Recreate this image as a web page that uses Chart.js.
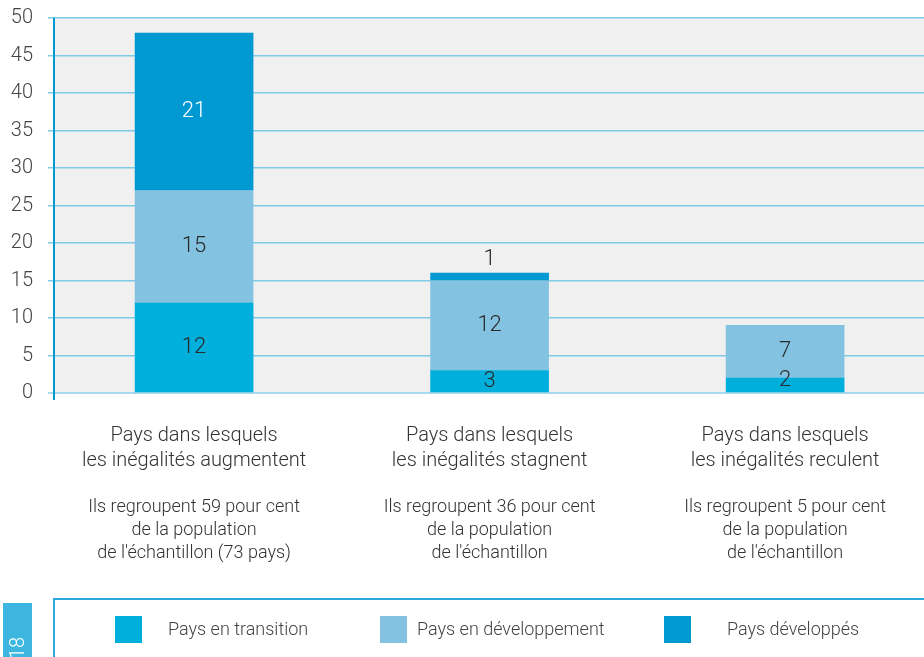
<!DOCTYPE html>
<html><head><meta charset="utf-8">
<script src="https://cdn.jsdelivr.net/npm/chart.js@4/dist/chart.umd.min.js"></script>
<style>html,body{margin:0;padding:0;background:#fff;}#wrap{width:924px;height:657px;position:relative;}</style>
</head><body><div id="wrap"><canvas id="c" width="924" height="657"></canvas></div>
<script>
const categories = [
  ["Pays dans lesquels", "les inégalités augmentent"],
  ["Pays dans lesquels", "les inégalités stagnent"],
  ["Pays dans lesquels", "les inégalités reculent"]
];
const subtitles = [
  ["Ils regroupent 59 pour cent", "de la population", "de l'échantillon (73 pays)"],
  ["Ils regroupent 36 pour cent", "de la population", "de l'échantillon"],
  ["Ils regroupent 5 pour cent", "de la population", "de l'échantillon"]
];
const seriesNames = ["Pays en transition", "Pays en développement", "Pays développés"];
const transition = [12, 3, 2];
const developpement = [15, 12, 7];
const developpes = [21, 1, 0];
const yTicks = [0, 5, 10, 15, 20, 25, 30, 35, 40, 45, 50];
const pageNumber = "18";

const COLORS = ["#00afdc", "#83c3e1", "#0099d2"];
const FONT = "Roboto, 'Liberation Sans', sans-serif";

function pts(arr){ return arr.map((v,i)=>({x:i, y:v})); }

const bgPlugin = {
  id: 'bg',
  beforeDraw(chart){
    const {ctx, chartArea:a} = chart;
    ctx.save();
    ctx.fillStyle = '#f0f0f0';
    ctx.fillRect(a.left, a.top, a.right - a.left, a.bottom - a.top);
    ctx.restore();
  },
  afterDatasetsDraw(chart){
    const {ctx, chartArea:a} = chart;
    ctx.save();
    ctx.strokeStyle = '#0099d2';
    ctx.lineWidth = 2;
    ctx.beginPath();
    ctx.moveTo(a.left, a.top);
    ctx.lineTo(a.left, a.bottom + 7);
    ctx.stroke();
    ctx.restore();
  }
};

const labelPlugin = {
  id: 'vals',
  afterDatasetsDraw(chart){
    const {ctx} = chart;
    ctx.save();
    ctx.font = "300 22px " + FONT;
    ctx.textAlign = 'center';
    ctx.textBaseline = 'middle';
    chart.data.datasets.forEach((ds, di) => {
      const meta = chart.getDatasetMeta(di);
      meta.data.forEach((bar, i) => {
        const v = ds.data[i].y;
        if (!v) return;
        const h = Math.abs(bar.base - bar.y);
        let y = (bar.y + bar.base) / 2;
        if (h < 12) y = bar.y - 14;
        else if (h < 18) y = bar.y + 2;
        ctx.fillStyle = (di === 2 && h >= 12) ? '#ffffff' : '#2a2a2a';
        ctx.fillText(String(v), bar.x, y);
      });
    });
    ctx.restore();
  }
};

const extrasPlugin = {
  id: 'extras',
  afterDraw(chart){
    const {ctx} = chart;
    const xs = chart.scales.x;
    ctx.save();
    ctx.font = "300 18px " + FONT;
    ctx.fillStyle = '#333';
    ctx.textAlign = 'center';
    ctx.textBaseline = 'middle';
    subtitles.forEach((lines, i) => {
      const x = xs.getPixelForValue(i);
      lines.forEach((t, j) => ctx.fillText(t, x, 507 + j * 23));
    });
    ctx.strokeStyle = '#2aa7dc';
    ctx.lineWidth = 2;
    ctx.strokeRect(54, 599, 900, 80);
    const sq = [115, 380, 664];
    const tx = [168, 417, 727];
    ctx.font = "300 18px " + FONT;
    ctx.textAlign = 'left';
    chart.data.datasets.forEach((ds, i) => {
      ctx.fillStyle = ds.backgroundColor;
      ctx.fillRect(sq[i], 616, 27, 27);
      ctx.fillStyle = '#444';
      ctx.fillText(ds.label, tx[i], 630);
    });
    ctx.fillStyle = '#3db6e0';
    ctx.fillRect(3, 603, 29, 60);
    ctx.translate(19, 648);
    ctx.rotate(-Math.PI / 2);
    ctx.fillStyle = '#fff';
    ctx.font = "300 20px " + FONT;
    ctx.textAlign = 'center';
    ctx.fillText(pageNumber, 0, 0);
    ctx.restore();
  }
};

new Chart(document.getElementById('c'), {
  type: 'bar',
  data: {
    datasets: [
      {label: seriesNames[0], data: pts(transition), backgroundColor: COLORS[0]},
      {label: seriesNames[1], data: pts(developpement), backgroundColor: COLORS[1]},
      {label: seriesNames[2], data: pts(developpes), backgroundColor: COLORS[2]}
    ]
  },
  options: {
    responsive: false,
    animation: false,
    layout: {padding: {top: 18, left: 0, right: 0, bottom: 0}},
    datasets: {bar: {barThickness: 118, borderWidth: 0}},
    plugins: {legend: {display: false}, tooltip: {enabled: false}},
    scales: {
      x: {
        type: 'linear',
        stacked: true,
        offset: false,
        min: -0.474,
        max: 2.470,
        afterBuildTicks(s){ s.ticks = categories.map((c, i) => ({value: i})); },
        afterFit(s){ s.height = 264; s.paddingLeft = 0; s.paddingRight = 0; },
        grid: {display: false},
        border: {display: false},
        ticks: {
          autoSkip: false,
          maxRotation: 0,
          padding: 22,
          font: {family: FONT, size: 20, weight: 300, lineHeight: 1.25},
          color: '#333',
          callback: (v) => categories[v]
        }
      },
      y: {
        stacked: true,
        min: 0,
        max: 50,
        afterBuildTicks(s){ s.ticks = yTicks.map(v => ({value: v})); },
        afterFit(s){ s.width = 54; s.paddingTop = 0; s.paddingBottom = 0; },
        border: {display: false},
        grid: {
          color: (c) => c.tick && c.tick.value === 0 ? '#a9d9ec' : '#7ecbe8',
          lineWidth: (c) => c.tick && c.tick.value === 0 ? 2 : 1.5,
          drawTicks: true,
          tickLength: 6
        },
        ticks: {
          padding: 15,
          font: {family: FONT, size: 20, weight: 300},
          color: '#444'
        }
      }
    }
  },
  plugins: [bgPlugin, labelPlugin, extrasPlugin]
});
</script>
</body></html>
